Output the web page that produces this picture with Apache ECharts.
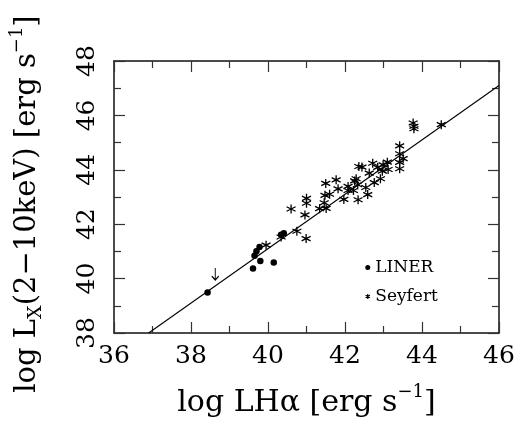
<!DOCTYPE html>
<html><head><meta charset="utf-8">
<script src="https://cdn.jsdelivr.net/npm/echarts@6/dist/echarts.min.js"></script>
<style>html,body{margin:0;padding:0;background:#fff}#c{width:518px;height:428px}</style>
</head><body><div id="c"></div>
<script>
// ---- data ----
const xTickLabels = ['36','38','40','42','44','46'];
const yTickLabels = ['38','40','42','44','46','48'];
const linerX = [38.43, 39.61, 39.65, 39.70, 39.78, 39.80, 40.15, 40.34, 40.41];
const linerY = [39.49, 40.37, 40.84, 41.01, 41.16, 40.65, 40.59, 41.61, 41.67];
const seyfertX = [39.95, 40.34, 40.60, 40.75, 40.96, 40.99, 41.00, 41.00, 41.34, 41.46,
  41.48, 41.50, 41.51, 41.60, 41.77, 41.82, 41.97, 42.08, 42.08, 42.22,
  42.25, 42.29, 42.33, 42.34, 42.36, 42.44, 42.54, 42.59, 42.63, 42.72,
  42.76, 42.85, 42.92, 42.97, 42.99, 43.10, 43.12, 43.42, 43.42, 43.51,
  43.42, 43.42, 43.77, 43.79, 43.79, 44.50];
const seyfertY = [41.23, 41.53, 42.56, 41.74, 42.34, 41.47, 42.77, 42.95, 42.57, 42.79,
  43.06, 43.50, 42.58, 43.10, 43.63, 43.30, 42.91, 43.39, 43.24, 43.24,
  43.59, 43.67, 43.45, 42.90, 44.12, 44.10, 43.35, 43.09, 43.88, 44.24,
  43.53, 44.09, 43.67, 43.95, 44.18, 44.28, 44.01, 44.88, 44.59, 44.41,
  44.27, 44.04, 45.72, 45.60, 45.51, 45.66];
const upperLimitX = [38.63];
const upperLimitY = [40.17];
const fitX = [36.9, 46.0];
const fitY = [38.0, 47.1];

const zip = (a, b) => a.map((v, i) => [v, b[i]]);
const FONT = 'DejaVu Serif';
const ASTER = 'path://M5,0L5,10M0.67,2.5L9.33,7.5M0.67,7.5L9.33,2.5';
const ARROW = 'path://M5,0L5,14M1.5,9.5L5,14L8.5,9.5';

const axisCommon = {
  type: 'value', interval: 2,
  axisLine: { show: true, onZero: false, lineStyle: { color: '#111', width: 1.5 } },
  axisTick: { show: true, inside: true, length: 11, lineStyle: { color: '#333', width: 1.2 } },
  minorTick: { show: true, splitNumber: 2, length: 7, lineStyle: { color: '#333', width: 1.2 } },
  splitLine: { show: false }, minorSplitLine: { show: false }
};
const richName = {
  sup: { fontFamily: FONT, fontSize: 18, verticalAlign: 'top', lineHeight: 18, color: '#000' },
  sub: { fontFamily: FONT, fontSize: 19, verticalAlign: 'bottom', lineHeight: 19, color: '#000' }
};

const chart = echarts.init(document.getElementById('c'), null, { renderer: 'canvas' });
chart.setOption({
  backgroundColor: '#fff',
  animation: false,
  grid: { left: 112, right: 19, top: 61, bottom: 79, containLabel: false },
  xAxis: [
    Object.assign({}, axisCommon, {
      min: 36, max: 46, position: 'bottom',
      axisLabel: { show: true, margin: 11, color: '#000', fontFamily: FONT, fontSize: 25,
        formatter: v => xTickLabels.includes(String(v)) ? String(v) : '' },
      name: 'log LHα [erg s{sup|−1}]', nameLocation: 'middle', nameGap: 50,
      nameTextStyle: { color: '#000', fontFamily: FONT, fontSize: 30, lineHeight: 40, rich: richName }
    }),
    Object.assign({}, axisCommon, { min: 36, max: 46, position: 'top', axisLabel: { show: false } })
  ],
  yAxis: [
    Object.assign({}, axisCommon, {
      min: 38, max: 48, position: 'left',
      axisLabel: { show: true, rotate: 90, margin: 14, color: '#000', fontFamily: FONT, fontSize: 25,
        formatter: v => yTickLabels.includes(String(v)) ? String(v) : '' },
      name: 'log L{sub|X}(2−10keV) [erg s{sup|−1}]', nameLocation: 'middle', nameGap: 68, nameRotate: 90,
      nameTextStyle: { color: '#000', fontFamily: FONT, fontSize: 29, lineHeight: 38, rich: richName,
        padding: [0, 14, 0, 0] }
    }),
    Object.assign({}, axisCommon, { min: 38, max: 48, position: 'right', axisLabel: { show: false } })
  ],
  legend: {
    orient: 'vertical', left: 360, top: 254, itemWidth: 5, itemHeight: 5, itemGap: 12,
    textStyle: { fontFamily: FONT, fontSize: 17, color: '#000' },
    data: [
      { name: 'LINER', icon: 'circle', itemStyle: { color: '#000', borderWidth: 0 } },
      { name: 'Seyfert', icon: ASTER, itemStyle: { color: '#000', borderColor: '#000', borderWidth: 1.2 } }
    ]
  },
  series: [
    { name: 'fit', type: 'line', data: zip(fitX, fitY), showSymbol: false, symbol: 'none', silent: true,
      lineStyle: { color: '#000', width: 1.1 }, z: 1 },
    { name: 'LINER', type: 'scatter', data: zip(linerX, linerY), symbol: 'circle', symbolSize: 6.5,
      itemStyle: { color: '#000', opacity: 1 }, z: 3 },
    { name: 'Seyfert', type: 'scatter', data: zip(seyfertX, seyfertY), symbol: ASTER, symbolSize: 9,
      itemStyle: { color: '#000', borderColor: '#000', borderWidth: 1.3, opacity: 1 }, z: 3 },
    { name: 'limit', type: 'scatter', data: zip(upperLimitX, upperLimitY), symbol: ARROW, symbolSize: [7, 12],
      itemStyle: { color: 'rgba(0,0,0,0)', borderColor: '#000', borderWidth: 1.2, opacity: 1 }, z: 3 }
  ]
});
</script></body></html>
